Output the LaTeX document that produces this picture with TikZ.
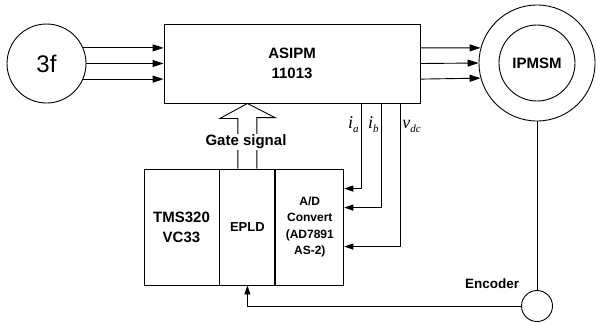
\documentclass[tikz,border=0pt]{standalone}
\usepackage{fontspec}
\setmainfont{Liberation Sans}
\newfontfamily\timesfont{Liberation Serif}
\usetikzlibrary{arrows.meta,calc}

\newcommand{\meas}[2]{{\timesfont\itshape\fontsize{18}{18}\selectfont #1\raisebox{-4pt}{\fontsize{11}{11}\selectfont #2}}}

\tikzset{
    blk/.style={draw, line width=0.9pt, inner sep=0pt},
    rnd/.style={draw, circle, line width=0.9pt, inner sep=0pt},
    pwr/.style={-{Triangle[length=11pt,width=7pt]}},
    sig/.style={-{Triangle[length=9pt,width=6pt]}},
    lbl/.style={font=\bfseries\fontsize{15}{20}\selectfont, align=center}
}

\begin{document}
\begin{tikzpicture}[x=1pt, y=-1pt, line width=0.9pt]

    \useasboundingbox (0,0) rectangle (596,322);

    % --- BLOCCHI DI POTENZA ---
    \node[rnd, minimum size=79pt, font=\fontsize{24}{24}\selectfont] (src) at (46.5,63.5) {3f};
    \node[blk, minimum width=256pt, minimum height=79pt, lbl] (asipm) at (292,63.5) {ASIPM\\11013};
    \node[rnd, minimum size=116pt] (motor) at (537,63) {};
    \node[rnd, minimum size=76pt, lbl] (ipmsm) at (motor.center) {IPMSM};
    \node[rnd, minimum size=31pt] (enc) at (537,306) {};
    \node[font=\bfseries\fontsize{13.5}{16}\selectfont, anchor=south] (enclbl) at (492,292) {Encoder};

    % --- BLOCCHI DI CONTROLLO ---
    \node[blk, minimum width=75pt, minimum height=116pt, lbl] (dsp) at (181.5,227) {TMS320\\VC33};
    \node[blk, minimum width=55pt, minimum height=116pt, anchor=west,
          font=\bfseries\fontsize{13}{16}\selectfont] (epld) at (dsp.east) {EPLD};
    \node[blk, minimum width=68pt, minimum height=116pt, anchor=west, align=center,
          font=\bfseries\fontsize{12}{16.5}\selectfont] (adc) at (epld.east) {A/D\\Convert\\(AD7891\\AS-2)};

    % --- ALIMENTAZIONE TRIFASE ---
    \foreach \a/\b in {23/165, 0/180, -23/195} {
        \draw[pwr] (src.\a) -- (asipm.west |- src.\a);
        \draw[pwr] (asipm.east |- src.\a) -- (motor.\b);
    }

    % --- SEGNALE DI GATE (freccia vuota) ---
    \coordinate (gtip) at (epld.north |- asipm.south);
    \draw[line width=0.9pt, line join=miter] ($(epld.north)+(9.5,0)$) -- ++(0,-51) -- ++(18,0) -- (gtip)
        -- ++(-27.5,15) -- ++(18,0) -- ($(epld.north)+(-9.5,0)$);
    \node[lbl, fill=white, inner sep=1pt] (gate) at (246,142) {Gate signal};

    % --- MISURE DI CORRENTE E TENSIONE ---
    \coordinate (ia)  at (361,103);
    \coordinate (ib)  at (381,103);
    \coordinate (vdc) at (400,103);
    \draw[sig] (ia)  |- ($(adc.north east)+(0,20)$);
    \draw[sig] (ib)  |- ($(adc.north east)+(0,39)$);
    \draw[sig] (vdc) |- ($(adc.north east)+(0,78)$);
    \node[left, inner sep=2pt] at ($(ia)+(0,22)$) {\meas{i}{a}};
    \node[left, inner sep=2pt] at ($(ib)+(0,22)$) {\meas{i}{b}};
    \node[right, inner sep=2pt] at ($(vdc)+(0,23)$) {\meas{v}{dc}};

    % --- RETROAZIONE ENCODER ---
    \draw (motor.south) -- (enc.north);
    \draw[sig] (enc.west) -- (epld.south |- enc.west) -- (epld.south);

\end{tikzpicture}
\end{document}
